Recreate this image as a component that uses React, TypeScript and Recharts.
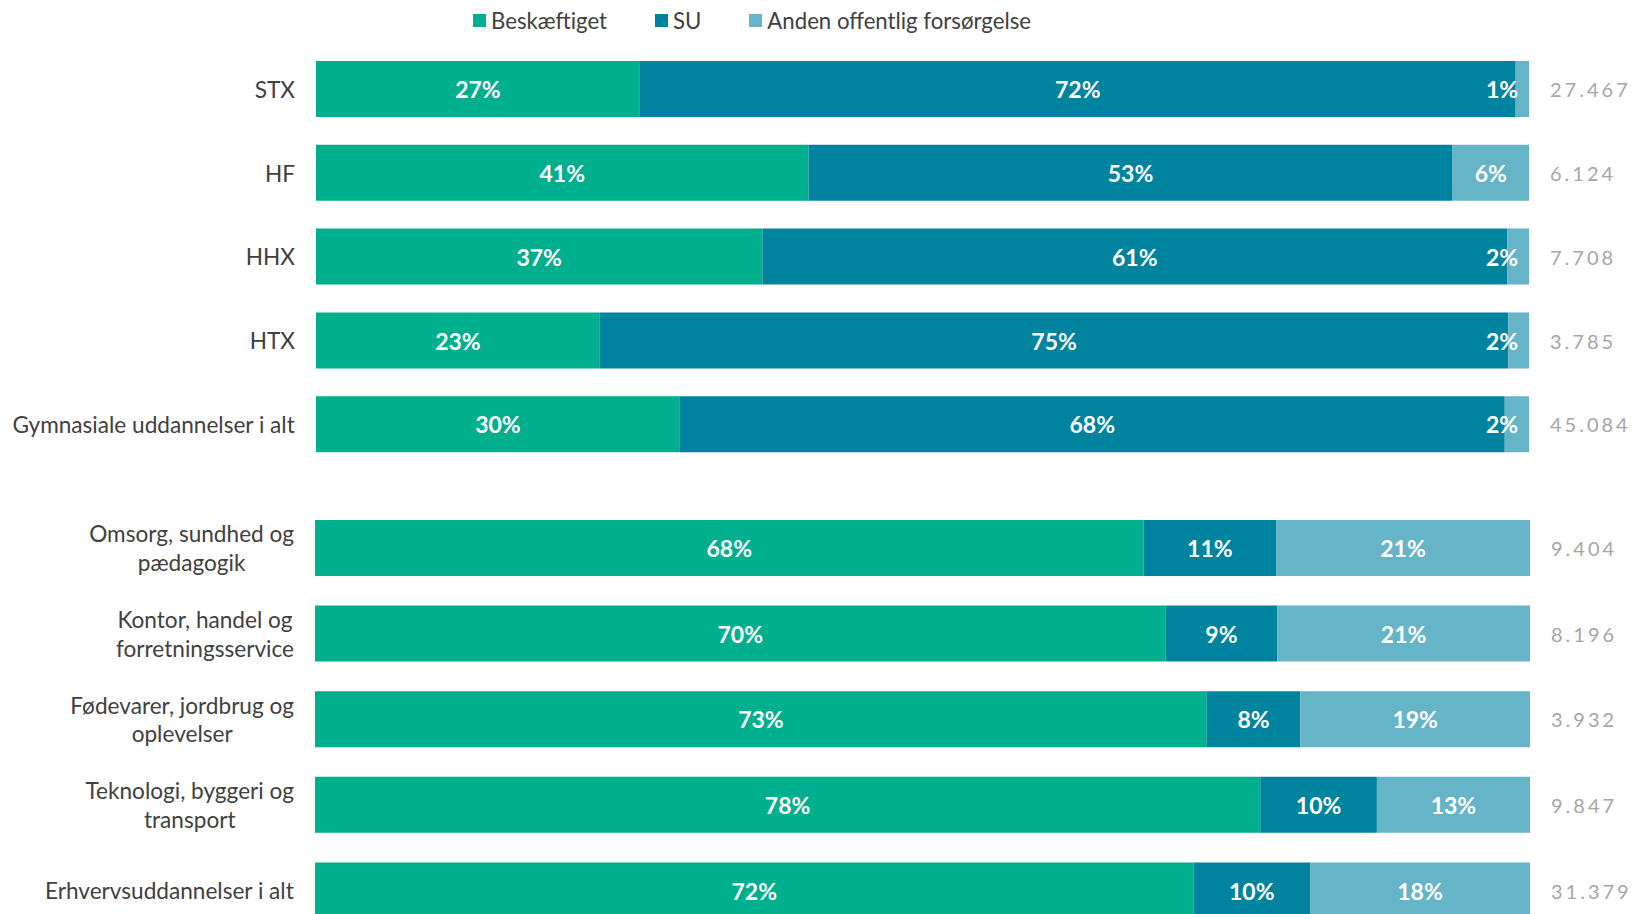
import React from "react";
import { Bar, BarChart, LabelList, XAxis, YAxis } from "recharts";

const seriesNames = ["Beskæftiget", "SU", "Anden offentlig forsørgelse"];
const seriesColors = ["#00af8e", "#00839e", "#66b4c7"];

const categoriesTop = ["STX", "HF", "HHX", "HTX", "Gymnasiale uddannelser i alt"];
const employedTop = [26.7, 40.6, 36.8, 23.4, 30.0];
const suTop = [72.2, 53.1, 61.4, 74.9, 68.0];
const otherTop = [1.1, 6.3, 1.8, 1.7, 2.0];
const totalsTop = [27467, 6124, 7708, 3785, 45084];

const categoriesBottom = [
  "Omsorg, sundhed og\npædagogik",
  "Kontor, handel og\nforretningsservice",
  "Fødevarer, jordbrug og\noplevelser",
  "Teknologi, byggeri og\ntransport",
  "Erhvervsuddannelser i alt",
];
const employedBottom = [68.2, 70.0, 73.4, 77.8, 72.3];
const suBottom = [10.9, 9.2, 7.7, 9.6, 9.6];
const otherBottom = [20.9, 20.8, 18.9, 12.6, 18.1];
const totalsBottom = [9404, 8196, 3932, 9847, 31379];

const FONT = "Lato, 'Open Sans', sans-serif";

const buildRows = (cats: string[], a: number[], b: number[], c: number[], t: number[]) =>
  cats.map((name, i) => ({ name, employed: a[i], su: b[i], other: c[i], total: t[i] }));

const topData = buildRows(categoriesTop, employedTop, suTop, otherTop, totalsTop);
const bottomData = buildRows(categoriesBottom, employedBottom, suBottom, otherBottom, totalsBottom);

let ctx: CanvasRenderingContext2D | null = null;
function measure(text: string, size: number) {
  if (!ctx) ctx = document.createElement("canvas").getContext("2d");
  if (!ctx) return text.length * size * 0.5;
  ctx.font = `${size}px Lato`;
  return ctx.measureText(text).width;
}

function CategoryTick(props: any) {
  const { x, y, payload } = props;
  const size = 22.6;
  const lines = String(payload.value).split("\n");
  const maxW = Math.max(...lines.map((l) => measure(l, size)));
  const cx = x - maxW / 2;
  const lh = 28.5;
  const y0 = y + 1 - ((lines.length - 1) * lh) / 2;
  return (
    <text textAnchor="middle" fill="#404040" fontSize={size} fontFamily={FONT}>
      {lines.map((l, i) => (
        <tspan key={i} x={cx} y={y0 + i * lh} dy="0.35em">
          {l}
        </tspan>
      ))}
    </text>
  );
}

function pctLabel(last: boolean) {
  return (props: any) => {
    const { x, y, width, height, value } = props;
    let cx = x + width / 2;
    if (last) cx = Math.min(cx, x + width - 27);
    return (
      <text x={cx} y={y + height / 2 + 1} dy="0.36em" textAnchor="middle" fill="#fff" fontSize={23} fontWeight={700} fontFamily={FONT}>
        {Math.round(value)}%
      </text>
    );
  };
}

const fmt = (n: number) => String(n).replace(/\B(?=(\d{3})+(?!\d))/g, ".");

function totalLabel(props: any) {
  const { x, y, width, height, value } = props;
  return (
    <text x={x + width + 21} y={y + height / 2 + 1} dy="0.36em" textAnchor="start" fill="#a6a6a6" fontSize={20} letterSpacing={3} fontFamily={FONT}>
      {fmt(value)}
    </text>
  );
}

function Group({ data, height, left, right }: { data: any[]; height: number; left: number; right: number }) {
  return (
    <BarChart layout="vertical" width={1632} height={height} data={data} margin={{ top: 0, right, bottom: 0, left: 0 }}>
      <XAxis type="number" domain={[0, 100]} hide />
      <YAxis type="category" dataKey="name" width={left} axisLine={false} tickLine={false} tickSize={0} tickMargin={21} tick={<CategoryTick />} interval={0} />
      <Bar dataKey="employed" stackId="a" fill={seriesColors[0]} barSize={56} isAnimationActive={false}>
        <LabelList dataKey="employed" content={pctLabel(false)} />
      </Bar>
      <Bar dataKey="su" stackId="a" fill={seriesColors[1]} barSize={56} isAnimationActive={false}>
        <LabelList dataKey="su" content={pctLabel(false)} />
      </Bar>
      <Bar dataKey="other" stackId="a" fill={seriesColors[2]} barSize={56} isAnimationActive={false}>
        <LabelList dataKey="other" content={pctLabel(true)} />
        <LabelList dataKey="total" content={totalLabel} />
      </Bar>
    </BarChart>
  );
}

export default function App() {
  return (
    <div style={{ position: "fixed", top: 0, left: 0, width: 1632, height: 914, overflow: "hidden", background: "#fff" }}>
      <div style={{ position: "absolute", top: 7, left: 473, display: "flex", alignItems: "center", gap: 48, fontFamily: FONT, fontSize: 22.2, color: "#404040" }}>
        {seriesNames.map((n, i) => (
          <div key={n} style={{ display: "flex", alignItems: "center", gap: 5 }}>
            <span style={{ width: 13, height: 13, background: seriesColors[i], display: "inline-block" }} />
            <span>{n}</span>
          </div>
        ))}
      </div>
      <div style={{ position: "absolute", top: 47, left: 0 }}>
        <Group data={topData} height={419} left={316} right={103} />
      </div>
      <div style={{ position: "absolute", top: 505, left: 0 }}>
        <Group data={bottomData} height={428} left={315} right={102} />
      </div>
    </div>
  );
}
